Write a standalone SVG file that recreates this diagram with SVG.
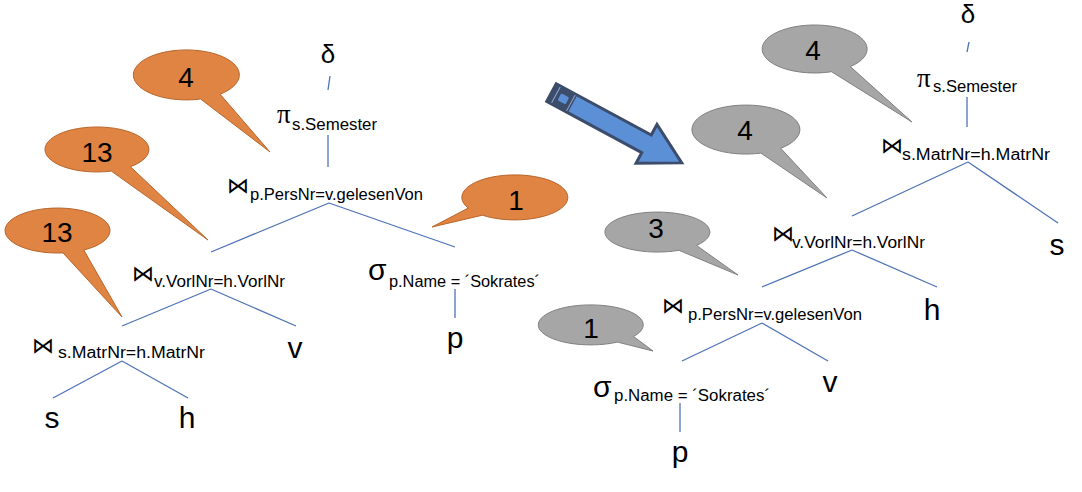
<svg xmlns="http://www.w3.org/2000/svg" width="1082" height="492" viewBox="0 0 1082 492">
<style>
.bg{fill:#ffffff}
.edge{stroke:#4f73b6;stroke-width:1.3;fill:none}
.or{fill:#df8442;stroke:#b8662c;stroke-width:1}
.gr{fill:#a6a6a6;stroke:#808080;stroke-width:1}
.num{font-family:"Liberation Sans",Arial,sans-serif;font-size:28px;fill:#000;text-anchor:middle}
.leaf{font-family:"Liberation Sans",Arial,sans-serif;font-size:30px;fill:#000;text-anchor:middle}
.sub{font-family:"Liberation Sans",Arial,sans-serif;font-size:16px;fill:#000}
.delta{font-family:"Liberation Sans",Arial,sans-serif;font-size:26px;fill:#000;text-anchor:middle}
.pi{font-family:"Liberation Serif","Times New Roman",serif;font-size:27px;fill:#000}
.sig{font-family:"Liberation Sans",Arial,sans-serif;font-size:30px;fill:#000}
.join{font-family:"DejaVu Sans",sans-serif;font-size:22px;fill:#000}
</style>
<rect class="bg" x="0" y="0" width="1082" height="492"/>

<g id="connectors">
  <line class="edge" x1="330" y1="76" x2="328" y2="90"/>
  <line class="edge" x1="328" y1="135" x2="328" y2="167"/>
  <line class="edge" x1="329" y1="203" x2="211" y2="252"/>
  <line class="edge" x1="329" y1="203" x2="455" y2="247"/>
  <line class="edge" x1="211" y1="289" x2="122" y2="326"/>
  <line class="edge" x1="211" y1="289" x2="296" y2="326"/>
  <line class="edge" x1="122" y1="361" x2="53" y2="398"/>
  <line class="edge" x1="122" y1="361" x2="188" y2="398"/>
  <line class="edge" x1="455" y1="289" x2="455" y2="318"/>

  <line class="edge" x1="969" y1="42" x2="967" y2="52"/>
  <line class="edge" x1="967" y1="97" x2="967" y2="127"/>
  <line class="edge" x1="968" y1="162" x2="852" y2="216"/>
  <line class="edge" x1="968" y1="162" x2="1058" y2="223"/>
  <line class="edge" x1="852" y1="250" x2="762" y2="287"/>
  <line class="edge" x1="852" y1="250" x2="937" y2="287"/>
  <line class="edge" x1="762" y1="323" x2="682" y2="361"/>
  <line class="edge" x1="762" y1="323" x2="828" y2="361"/>
  <line class="edge" x1="680" y1="403" x2="680" y2="432"/>
</g>

<!-- left tree -->
<g id="L-delta"><text class="delta" x="328" y="63">δ</text></g>
<g id="L-proj"><text class="pi" x="277" y="123">π</text><text class="sub" x="292" y="130" textLength="85" lengthAdjust="spacingAndGlyphs">s.Semester</text></g>
<g id="L-join1"><text class="join" x="227" y="193">⋈</text><text class="sub" x="250" y="200" textLength="173" lengthAdjust="spacingAndGlyphs">p.PersNr=v.gelesenVon</text></g>
<g id="L-join2"><text class="join" x="132" y="281">⋈</text><text class="sub" x="154" y="287" textLength="131" lengthAdjust="spacingAndGlyphs">v.VorlNr=h.VorlNr</text></g>
<g id="L-join3"><text class="join" x="32" y="353">⋈</text><text class="sub" x="58" y="358" textLength="147" lengthAdjust="spacingAndGlyphs">s.MatrNr=h.MatrNr</text></g>
<g id="L-sel"><text class="sig" x="368" y="280">σ</text><text class="sub" x="389" y="287" textLength="151" lengthAdjust="spacingAndGlyphs">p.Name = ´Sokrates´</text></g>
<g id="L-s"><text class="leaf" x="52" y="428">s</text></g>
<g id="L-h"><text class="leaf" x="187" y="428">h</text></g>
<g id="L-v"><text class="leaf" x="295" y="358">v</text></g>
<g id="L-p"><text class="leaf" x="455" y="348">p</text></g>

<!-- left callouts -->
<g id="L-c4"><path class="or" d="M220.1,94.2 A53 25 0 1 0 200.6,99 L270,152 Z"/><text class="num" x="186" y="87">4</text></g>
<g id="L-c13a"><path class="or" d="M130.4,166.7 A52 22.5 0 1 0 111.3,171.1 L208,240 Z"/><text class="num" x="97" y="162">13</text></g>
<g id="L-c13b"><path class="or" d="M83.8,250 A52.5 22.5 0 1 0 63,252.9 L122,317 Z"/><text class="num" x="57" y="242">13</text></g>
<g id="L-c1"><path class="or" d="M482.4,215.2 A53 22.5 0 1 0 468.2,208.1 L432,227 Z"/><text class="num" x="516" y="210">1</text></g>

<!-- arrow -->
<g id="arrow" transform="translate(551.5,92.5) rotate(28.4)">
  <path d="M0,-10 L108,-10 L108,-22 L148,0 L108,22 L108,10 L0,10 Z" fill="#5b8fd6" stroke="#3c4d6b" stroke-width="3" stroke-linejoin="miter"/>
  <rect x="0" y="-10" width="24" height="20" fill="#3c4d6b"/>
  <line x1="5" y1="-9" x2="5" y2="9" stroke="#8fa9d0" stroke-width="1"/>
  <line x1="22" y1="-9" x2="22" y2="9" stroke="#8fa9d0" stroke-width="1"/>
  <rect x="9" y="-4" width="9" height="8" rx="1.5" fill="#5b8fd6"/>
</g>

<!-- right tree -->
<g id="R-delta"><text class="delta" x="968" y="23">δ</text></g>
<g id="R-proj"><text class="pi" x="917" y="87">π</text><text class="sub" x="933" y="92" textLength="84" lengthAdjust="spacingAndGlyphs">s.Semester</text></g>
<g id="R-join1"><text class="join" x="881" y="153">⋈</text><text class="sub" x="902" y="160" textLength="148" lengthAdjust="spacingAndGlyphs">s.MatrNr=h.MatrNr</text></g>
<g id="R-join2"><text class="join" x="772" y="241">⋈</text><text class="sub" x="792" y="248" textLength="133" lengthAdjust="spacingAndGlyphs">v.VorlNr=h.VorlNr</text></g>
<g id="R-join3"><text class="join" x="662" y="313">⋈</text><text class="sub" x="688" y="320" textLength="174" lengthAdjust="spacingAndGlyphs">p.PersNr=v.gelesenVon</text></g>
<g id="R-sel"><text class="sig" x="593" y="397">σ</text><text class="sub" x="614" y="401" textLength="156" lengthAdjust="spacingAndGlyphs">p.Name = ´Sokrates´</text></g>
<g id="R-s"><text class="leaf" x="1057" y="255">s</text></g>
<g id="R-h"><text class="leaf" x="932" y="320">h</text></g>
<g id="R-v"><text class="leaf" x="830" y="392">v</text></g>
<g id="R-p"><text class="leaf" x="680" y="462">p</text></g>

<!-- right callouts -->
<g id="R-c4a"><path class="gr" d="M850.3,66.6 A52.5 24 0 1 0 831.6,71.7 L912,122 Z"/><text class="num" x="813" y="60">4</text></g>
<g id="R-c4b"><path class="gr" d="M780.7,148.3 A54 24.5 0 1 0 760.9,153.1 L827,198 Z"/><text class="num" x="745" y="140">4</text></g>
<g id="R-c3"><path class="gr" d="M696.5,245.4 A52.5 20 0 1 0 678.9,250.3 L738,275 Z"/><text class="num" x="656" y="238">3</text></g>
<g id="R-c1"><path class="gr" d="M633.5,336.5 A52.5 20 0 1 0 617.5,342.1 L653,351 Z"/><text class="num" x="591" y="338">1</text></g>
</svg>
